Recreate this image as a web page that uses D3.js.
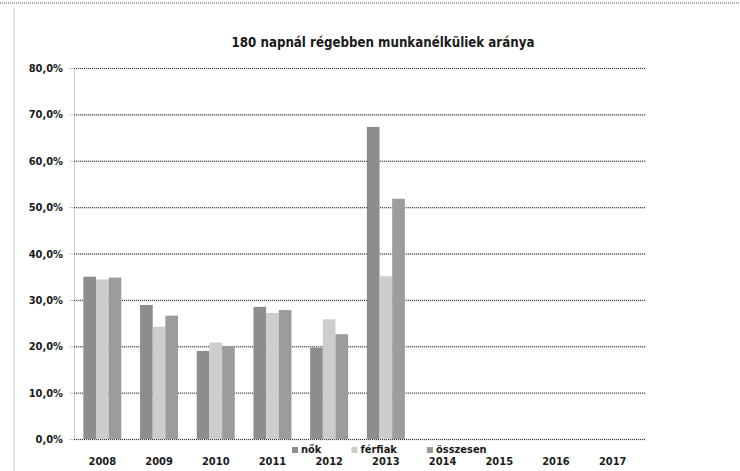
<!DOCTYPE html>
<html>
<head>
<meta charset="utf-8">
<script src="https://cdn.jsdelivr.net/npm/d3@7"></script>
<style>
  html, body { margin: 0; background: #fff; overflow: hidden; }
  svg { display: block; }
  text { font-family: "DejaVu Sans Condensed", "DejaVu Sans", sans-serif; font-weight: bold; fill: #1a1a1a; }
</style>
</head>
<body>
<script>
const width = 740
const height = 471
const margin = ({top: 68, right: 99, bottom: 32, left: 74})

// adatok
const years = ["2008", "2009", "2010", "2011", "2012", "2013", "2014", "2015", "2016", "2017"]
const nok = [35.0, 28.9, 19.0, 28.5, 19.7, 67.3, null, null, null, null]
const ferfiak = [34.4, 24.2, 20.8, 27.2, 25.8, 35.1, null, null, null, null]
const osszesen = [34.8, 26.6, 20.0, 27.8, 22.6, 51.8, null, null, null, null]
const seriesNames = ["nők", "férfiak", "összesen"]
const yTicks = [0, 10, 20, 30, 40, 50, 60, 70, 80]
const title = "180 napnál régebben munkanélküliek aránya"

const colors = ["#8d8d8d", "#cdcdcd", "#9c9c9c"]
const seriesValues = [nok, ferfiak, osszesen]

const x = d3.scaleBand()
    .domain(years)
    .range([margin.left, width - margin.right])
    .paddingInner(0.33)
    .paddingOuter(0.165)

const x1 = d3.scaleBand()
    .domain(seriesNames)
    .range([0, x.bandwidth()])

const y = d3.scaleLinear()
    .domain([0, 80])
    .range([height - margin.bottom, margin.top])

const fmt = v => d3.format(".1f")(v).replace(".", ",") + "%"

const svg = d3.select("body").append("svg")
    .attr("width", width)
    .attr("height", height)

// keret
svg.append("line")
    .attr("x1", 0).attr("x2", width)
    .attr("y1", 3).attr("y2", 3)
    .attr("stroke", "#555")
    .attr("stroke-dasharray", "1,1")
svg.append("line")
    .attr("x1", 14).attr("x2", 14)
    .attr("y1", 8).attr("y2", height)
    .attr("stroke", "#dcdcdc")
    .attr("stroke-width", 1.5)

svg.append("text")
    .attr("x", 383)
    .attr("y", 47)
    .attr("text-anchor", "middle")
    .attr("font-size", 13.2)
    .text(title)

// y tengely + rács
const yAxis = g => g
    .attr("transform", `translate(${margin.left},0)`)
    .call(d3.axisLeft(y).tickValues(yTicks).tickFormat(fmt).tickSize(5).tickPadding(6))
    .call(g => g.select(".domain").attr("stroke", "#cfcfcf"))
    .call(g => g.selectAll(".tick line").attr("stroke", "#cfcfcf"))
    .call(g => g.selectAll(".tick text")
        .attr("font-size", 11)
        .attr("font-family", null)
        .attr("fill", "#1a1a1a"))
    .call(g => g.selectAll(".tick").append("line")
        .attr("x2", width - margin.left - margin.right + 5)
        .attr("stroke", "#e2e2e2")
        .attr("stroke-width", 2))
    .call(g => g.selectAll(".tick").append("line")
        .attr("x2", width - margin.left - margin.right + 5)
        .attr("stroke", "#3a3a3a")
        .attr("stroke-dasharray", "1,1"))

svg.append("g").call(yAxis)

// oszlopok
const groups = svg.append("g")
    .selectAll("g")
    .data(years)
    .join("g")
    .attr("transform", d => `translate(${x(d)},0)`)

groups.selectAll("rect")
    .data((d, i) => seriesNames.map((s, j) => ({s, j, v: seriesValues[j][i]})).filter(e => e.v != null))
    .join("rect")
    .attr("x", d => x1(d.s))
    .attr("width", x1.bandwidth())
    .attr("y", d => y(d.v))
    .attr("height", d => y(0) - y(d.v))
    .attr("fill", d => colors[d.j])

// x tengely
const xAxis = g => g
    .attr("transform", `translate(0,${height - margin.bottom})`)
    .call(d3.axisBottom(x).tickSize(0).tickPadding(18))
    .call(g => g.select(".domain").remove())
    .call(g => g.selectAll(".tick text")
        .attr("font-size", 11)
        .attr("font-family", null)
        .attr("fill", "#1a1a1a"))

svg.append("g").call(xAxis)

// jelmagyarázat
const legend = svg.append("g")
    .attr("transform", "translate(292,447)")
let lx = 0
seriesNames.forEach((s, j) => {
    const item = legend.append("g").attr("transform", `translate(${lx},0)`)
    item.append("rect")
        .attr("y", 0)
        .attr("width", 6).attr("height", 6)
        .attr("fill", colors[j])
    const t = item.append("text")
        .attr("x", 9)
        .attr("y", 6)
        .attr("font-size", 11)
        .text(s)
    lx += 9 + t.node().getComputedTextLength() + 30
})
</script>
</body>
</html>
